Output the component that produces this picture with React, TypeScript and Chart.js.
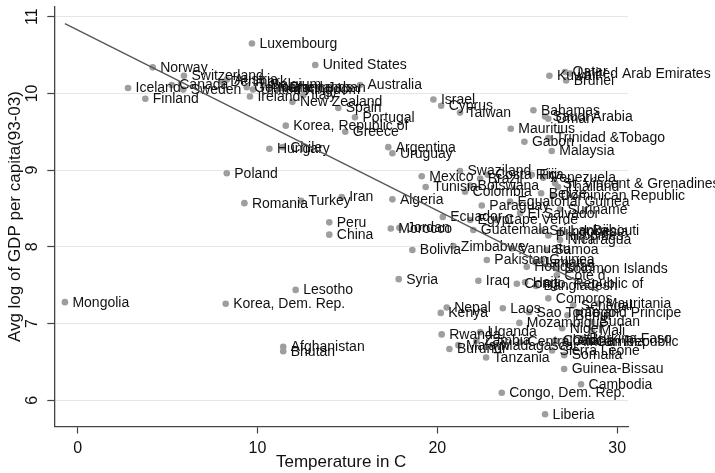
import React, { useEffect, useRef } from "react";
import { Chart, registerables } from "chart.js";

Chart.register(...registerables);

const countries = [
  "Luxembourg", "Norway", "Switzerland", "Iceland", "Finland", "Canada", "Sweden", "Denmark", "Austria", "Germany",
  "United Kingdom", "Belgium", "Netherlands", "France", "Italy", "Japan", "Ireland", "United States", "Australia", "New Zealand",
  "Spain", "Portugal", "Korea, Republic of", "Greece", "Israel", "Cyprus", "Taiwan", "Hungary", "Chile", "Argentina",
  "Uruguay", "Kuwait", "Qatar", "United Arab Emirates", "Brunei", "Bahamas", "Saudi Arabia", "Oman", "Mauritius", "Trinidad &Tobago",
  "Gabon", "Malaysia", "Poland", "Romania", "Turkey", "Iran", "Algeria", "Mexico", "Tunisia", "Peru",
  "China", "Morocco", "Jordan", "Bolivia", "Syria", "Lesotho", "Mongolia", "Korea, Dem. Rep.", "Afghanistan", "Bhutan",
  "Nepal", "Kenya", "Rwanda", "Burundi", "Malawi", "Iraq", "Congo, Republic of", "Haiti", "Bangladesh", "Pakistan",
  "Laos", "Sao Tome and Principe", "Comoros", "Mozambique", "Senegal", "Mauritania", "Benin", "Togo", "Sudan", "Niger",
  "Mali", "Uganda", "Zambia", "Madagascar", "Central African Republic", "Chad", "Ghana", "Burkina Faso", "Gambia", "Sierra Leone",
  "Tanzania", "Somalia", "Guinea-Bissau", "Cambodia", "Congo, Dem. Rep.", "Liberia", "Swaziland", "Brazil", "Costa Rica", "Botswana",
  "Colombia", "Fiji", "Venezuela", "St. Vincent & Grenadines", "Thailand", "Belize", "Dominican Republic", "Paraguay", "Equatorial Guinea", "Suriname",
  "El Salvador", "Ecuador", "Egypt", "Cape Verde", "Guatemala", "Sri Lanka", "Djibouti", "Philippines", "Indonesia", "Nicaragua",
  "Zimbabwe", "Vanuatu", "Samoa", "Guinea", "Jamaica", "Honduras", "Solomon Islands", "Cote d",
];

const temperature = [
  9.69, 4.17, 5.91, 2.8, 3.76, 5.23, 5.87, 8.06, 8.29, 9.4,
  9.75, 10.31, 10.7, 11.35, 12.55, 13.48, 9.58, 13.21, 15.7, 11.94,
  14.49, 15.42, 11.57, 14.88, 19.78, 20.21, 21.26, 10.66, 11.4, 17.27,
  17.5, 26.23, 27.1, 27.38, 27.16, 25.34, 25.99, 26.17, 24.08, 26.17,
  24.84, 26.36, 8.29, 9.27, 12.42, 14.68, 17.5, 19.13, 19.35, 13.99,
  13.99, 17.41, 17.89, 18.61, 17.85, 12.12, -0.71, 8.23, 11.43, 11.43,
  20.52, 20.19, 20.24, 20.67, 21.17, 22.28, 24.42, 24.88, 25.49, 22.75,
  23.64, 25.1, 26.17, 24.56, 27.56, 28.95, 27.23, 27.84, 28.6, 26.94,
  28.6, 22.38, 22.17, 23.12, 24.6, 26.55, 27.1, 28.03, 28.4, 26.38,
  22.71, 27.05, 27.05, 27.99, 23.58, 25.99, 21.26, 22.38, 22.8, 21.82,
  21.54, 25.25, 25.88, 26.55, 26.71, 25.77, 26.43, 22.47, 24.04, 26.82,
  24.6, 20.3, 21.82, 23.3, 22.0, 25.81, 28.21, 26.17, 26.82, 26.82,
  20.89, 24.14, 26.08, 25.81, 25.43, 24.97, 26.64, 26.64,
];

const logGdp = [
  10.65, 10.34, 10.23, 10.07, 9.93, 10.11, 10.05, 10.15, 10.18, 10.08,
  10.05, 10.11, 10.07, 10.07, 9.98, 10.08, 9.96, 10.37, 10.11, 9.89,
  9.81, 9.69, 9.58, 9.5, 9.92, 9.84, 9.75, 9.28, 9.3, 9.3,
  9.22, 10.23, 10.28, 10.26, 10.17, 9.78, 9.7, 9.67, 9.54, 9.42,
  9.37, 9.25, 8.96, 8.57, 8.6, 8.65, 8.62, 8.92, 8.78, 8.32,
  8.16, 8.24, 8.25, 7.96, 7.58, 7.44, 7.28, 7.26, 6.7, 6.64,
  7.21, 7.14, 6.86, 6.67, 6.72, 7.56, 7.52, 7.54, 7.49, 7.83,
  7.2, 7.15, 7.33, 7.01, 7.24, 7.26, 7.11, 7.15, 7.02, 6.94,
  6.91, 6.89, 6.78, 6.72, 6.76, 6.78, 6.78, 6.81, 6.76, 6.65,
  6.56, 6.59, 6.41, 6.21, 6.1, 5.82, 8.99, 8.89, 8.94, 8.8,
  8.72, 8.94, 8.9, 8.83, 8.78, 8.7, 8.67, 8.54, 8.59, 8.49,
  8.44, 8.39, 8.35, 8.35, 8.22, 8.21, 8.21, 8.15, 8.2, 8.09,
  8.01, 7.98, 7.96, 7.83, 7.8, 7.74, 7.72, 7.63,
];

const fitTemperature = [-0.71, 28.95];
const fitLogGdp = [10.91, 7.42];

const xTicks = [0, 10, 20, 30];
const yTicks = [6, 7, 8, 9, 10, 11];

const FONT = '"Liberation Sans", Arial, Helvetica, sans-serif';

const labelPlugin = {
  id: "countryLabels",
  afterDatasetDraw(chart: any, args: any) {
    if (args.index !== 0) return;
    const ctx = chart.ctx;
    ctx.save();
    ctx.font = `14px ${FONT}`;
    ctx.fillStyle = "#111";
    ctx.textBaseline = "middle";
    ctx.textAlign = "left";
    args.meta.data.forEach((el: any, i: number) => {
      ctx.fillText(countries[i], el.x + 7.5, el.y + 0.5);
    });
    ctx.restore();
  },
};

const yTickLabelPlugin = {
  id: "yTickLabels",
  afterDraw(chart: any) {
    const s = chart.scales.y;
    const ctx = chart.ctx;
    ctx.save();
    ctx.font = `16px ${FONT}`;
    ctx.fillStyle = "#111";
    ctx.textAlign = "center";
    ctx.textBaseline = "middle";
    yTicks.forEach((v) => {
      const y = s.getPixelForValue(v);
      ctx.save();
      ctx.translate(s.right - 21.3, y);
      ctx.rotate(-Math.PI / 2);
      ctx.fillText(String(v), 0, 0);
      ctx.restore();
    });
    ctx.restore();
  },
};

export default function App() {
  const ref = useRef<HTMLCanvasElement | null>(null);

  useEffect(() => {
    document.body.style.margin = "0";
    const canvas = ref.current;
    if (!canvas) return;
    const points = temperature.map((t, i) => ({ x: t, y: logGdp[i] }));
    const fitPoints = fitTemperature.map((t, i) => ({ x: t, y: fitLogGdp[i] }));
    const chart = new Chart(canvas, {
      type: "scatter",
      data: {
        datasets: [
          {
            data: points,
            order: 2,
            pointRadius: 3.3,
            pointHoverRadius: 3.3,
            pointBackgroundColor: "rgb(158,158,158)",
            pointBorderWidth: 0,
            pointBorderColor: "rgba(0,0,0,0)",
            showLine: false,
          },
          {
            data: fitPoints,
            order: 1,
            showLine: true,
            borderColor: "#555",
            borderWidth: 1.3,
            pointRadius: 0,
            fill: false,
          },
        ],
      },
      options: {
        responsive: false,
        animation: false,
        devicePixelRatio: 1,
        layout: { padding: { top: 6.7, right: 87, left: 0, bottom: 0 } },
        plugins: { legend: { display: false }, tooltip: { enabled: false } },
        scales: {
          x: {
            type: "linear",
            min: -1.3,
            max: 30.6,
            afterBuildTicks: (s: any) => {
              s.ticks = xTicks.map((v) => ({ value: v }));
            },
            afterFit: (s: any) => {
              s.height = 46.5;
            },
            grid: {
              drawOnChartArea: false,
              drawTicks: true,
              tickLength: 7,
              tickColor: "#444",
              tickWidth: 1.2,
            },
            border: { display: true, color: "#444", width: 1.3 },
            ticks: {
              font: { family: FONT, size: 16 },
              color: "#111",
              padding: 5,
              maxRotation: 0,
              minRotation: 0,
            },
            title: {
              display: true,
              text: "Temperature in C",
              font: { family: FONT, size: 17 },
              color: "#111",
              padding: { top: 0, bottom: 0 },
            },
          },
          y: {
            type: "linear",
            min: 5.66,
            max: 11.13,
            afterBuildTicks: (s: any) => {
              s.ticks = yTicks.map((v) => ({ value: v }));
            },
            afterFit: (s: any) => {
              s.width = 54.3;
            },
            grid: {
              drawOnChartArea: true,
              drawTicks: true,
              tickLength: 7,
              color: "#e6e6e6",
              lineWidth: 1,
              tickColor: "#444",
              tickWidth: 1.2,
            },
            border: { display: true, color: "#444", width: 1.3 },
            ticks: { display: false },
            title: {
              display: true,
              text: "Avg log of GDP per capita(93-03)",
              font: { family: FONT, size: 17 },
              color: "#111",
              padding: { top: 5, bottom: 0 },
            },
          },
        },
      },
      plugins: [labelPlugin, yTickLabelPlugin],
    } as any);
    return () => chart.destroy();
  }, []);

  return (
    <div style={{ width: 715, height: 473 }}>
      <canvas ref={ref} width={715} height={473} style={{ width: 715, height: 473, display: "block" }} />
    </div>
  );
}
